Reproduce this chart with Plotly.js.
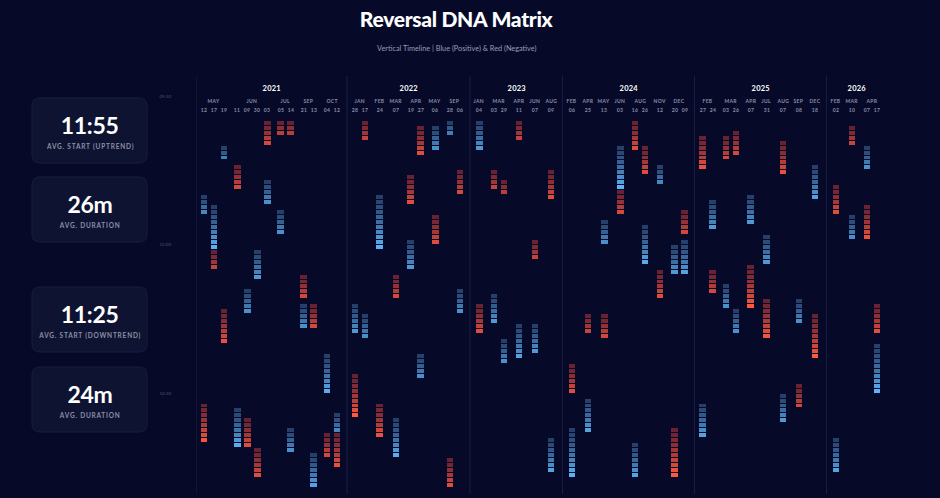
<!DOCTYPE html>
<html><head><meta charset="utf-8">
<script src="https://cdn.plot.ly/plotly-3.0.1.min.js"></script>
<style>html,body{margin:0;padding:0;background:#060a28;}#chart{width:940px;height:498px;}</style>
</head><body><div id="chart"></div>
<script>
// ---------- DATA ----------
const years  = [2021,2021,2021,2021,2021,2021,2021,2021,2021,2021,2021,2021,2021,
                2022,2022,2022,2022,2022,2022,2022,2022,2022,
                2023,2023,2023,2023,2023,2023,
                2024,2024,2024,2024,2024,2024,2024,2024,2024,
                2025,2025,2025,2025,2025,2025,2025,2025,2025,
                2026,2026,2026,2026];
const months = ['MAY','MAY','MAY','JUN','JUN','JUN','JUN','JUL','JUL','SEP','SEP','OCT','OCT',
                'JAN','JAN','FEB','MAR','APR','APR','MAY','SEP','SEP',
                'JAN','MAR','MAR','APR','JUN','AUG',
                'FEB','APR','MAY','JUN','AUG','AUG','NOV','DEC','DEC',
                'FEB','FEB','MAR','MAR','APR','JUL','AUG','SEP','DEC',
                'FEB','MAR','APR','APR'];
const days   = ['12','17','19','11','09','30','03','05','14','21','13','04','12',
                '28','17','24','07','19','27','06','28','06',
                '04','03','29','11','07','09',
                '06','25','13','03','16','26','12','20','09',
                '27','24','03','26','07','31','07','08','18',
                '02','10','07','17'];
// Uptrend (blue) reversals: start time and duration (minutes)
const upStart = ['11:10','11:20','10:20','14:45','12:45','12:05','10:55','11:25','15:05','13:00','15:30','13:50','14:50',
                 '13:00','13:10','11:10','14:55','11:55','13:50','10:00','09:55','12:45',
                 '09:55','12:50','13:35','13:20','13:20','15:15',
                 '15:05','14:35','11:35','10:20','15:20','11:40','10:40','12:00','11:55',
                 '14:40','11:15','12:40','13:05','11:10','11:50','14:30','12:55','10:40',
                 '15:15','11:30','10:20','13:40'];
const upDur   = [15,40,10,35,20,25,20,20,20,20,30,35,15,
                 25,20,50,35,25,20,20,10,20,
                 25,25,20,30,25,30,
                 45,30,20,40,30,35,15,25,30,
                 30,25,20,20,25,25,25,20,30,
                 30,20,20,45];
// Downtrend (red) reversals
const downStart = ['14:40','12:05','13:05','10:40','14:55','15:25','09:55','09:55','09:55','12:30','13:00','15:10','15:10',
                   '14:10','09:55','14:40','12:30','10:50','10:00','11:30','15:35','10:45',
                   '13:00','10:45','10:55','09:55','11:55','10:45',
                   '14:00','13:10','13:10','11:05','09:55','10:20','12:25','15:05','11:25',
                   '10:10','12:25','10:10','10:05','12:20','12:55','10:15','14:20','13:10',
                   '11:00','10:00','11:20','13:00'];
const downDur   = [35,15,30,20,25,25,20,10,10,20,20,20,30,
                   40,15,30,20,25,25,25,25,20,
                   25,15,10,15,15,25,
                   25,15,20,20,25,25,25,45,20,
                   30,20,20,20,40,35,30,20,40,
                   25,15,30,25];
const yTickTimes = ['09:30','12:00','14:30'];
const statValues = ['11:55','26m','11:25','24m'];
const statLabels = ['AVG. START (UPTREND)','AVG. DURATION','AVG. START (DOWNTREND)','AVG. DURATION'];

// ---------- LAYOUT GEOMETRY ----------
const W=940,H=498, ML=196, MR=40, MT=78, MB=4;
const PW=W-ML-MR, PH=H-MT-MB;
const PXPERMIN=0.992, REF_MIN=570, REF_PX=96;
const toMin = s => { const [h,m]=s.split(':').map(Number); return h*60+m; };
const pxToMin = py => REF_MIN + (py-REF_PX)/PXPERMIN;
const py2paper = py => 1-(py-MT)/PH;
const px2paper = px => (px-ML)/PW;

const COLW=10, SINGLEW=12.9, GAP=3.25, PADL=3, PADR=5;
const n=years.length;
const xs=[], seps=[], yearLab=[], monthLab=[];
let cur=0, i=0;
while(i<n){
  const yr=years[i]; seps.push(cur); const y0=cur; cur+=PADL; let first=true;
  while(i<n && years[i]===yr){
    const m=months[i]; let j=i; while(j<n && years[j]===yr && months[j]===m) j++;
    const cnt=j-i; if(!first) cur+=GAP; first=false;
    const gw=Math.max(cnt*COLW,SINGLEW), off=cur+(gw-cnt*COLW)/2;
    for(let k=0;k<cnt;k++) xs.push(off+COLW*(k+0.5));
    monthLab.push({x:cur+gw/2,t:m});
    cur+=gw; i=j;
  }
  cur+=PADR;
  yearLab.push({x:(y0+cur)/2,t:String(yr)});
}

function mix(a,b,t){return 'rgb('+a.map((v,k)=>Math.round(v+(b[k]-v)*t)).join(',')+')';}
const PAL={up:[[38,64,108],[92,178,244]],down:[[104,34,50],[255,88,62]]};
function cells(starts,durs,dir){
  const X=[],B=[],Y=[],C=[];
  starts.forEach((s,c)=>{
    const st=toMin(s), nc=durs[c]/5+1, peak=Math.min(1,0.3+0.08*nc);
    for(let k=0;k<nc;k++){
      const t=nc>1?k/(nc-1):0.5;
      X.push(xs[c]); B.push(st+5*k); Y.push(4.0);
      C.push(mix(PAL[dir][0],PAL[dir][1],Math.pow(t,1.3)*peak));
    }
  });
  return {type:'bar',x:X,y:Y,base:B,width:6.6,hoverinfo:'skip',
          marker:{color:C,line:{width:0}},showlegend:false};
}

const traces=[cells(upStart,upDur,'up'),cells(downStart,downDur,'down')];

const shapes=[], ann=[], spacing={};
const A=(o,ls)=>{ if(ls) spacing[ann.length]=ls; ann.push(Object.assign({showarrow:false,xanchor:'center',yanchor:'middle'},o)); };
seps.forEach(s=>shapes.push({type:'line',xref:'x',yref:'paper',x0:s,x1:s,y0:0,y1:1.005,
  line:{color:'rgba(45,50,95,0.55)',width:1},layer:'below'}));
yearLab.forEach(o=>A({xref:'x',yref:'paper',x:o.x,y:py2paper(88),text:'<b>'+o.t+'</b>',
  font:{family:'Lato',size:7.5,color:'#ffffff'}},'0.2px'));
monthLab.forEach(o=>A({xref:'x',yref:'paper',x:o.x,y:py2paper(101),text:'<b>'+o.t+'</b>',
  font:{family:'Lato',size:5,color:'#8a8ea8'}},'0.35px'));
xs.forEach((x,c)=>A({xref:'x',yref:'paper',x:x,y:py2paper(110),text:'<b>'+days[c]+'</b>',
  font:{family:'Lato',size:5,color:'#8a8ea8'}},'0.2px'));

// stat cards
const cardTops=[98,177,287,367], CH=65, CX0=32, CX1=147, R=8;
cardTops.forEach((t,k)=>{
  const x0=px2paper(CX0),x1=px2paper(CX1),y0=py2paper(t),y1=py2paper(t+CH);
  const rx=R/PW, ry=R/PH;
  const path=`M ${x0+rx},${y0} L ${x1-rx},${y0} Q ${x1},${y0} ${x1},${y0-ry} L ${x1},${y1+ry} Q ${x1},${y1} ${x1-rx},${y1} L ${x0+rx},${y1} Q ${x0},${y1} ${x0},${y1+ry} L ${x0},${y0-ry} Q ${x0},${y0} ${x0+rx},${y0} Z`;
  shapes.push({type:'path',xref:'paper',yref:'paper',path:path,fillcolor:'rgb(14,19,50)',
    line:{color:'rgb(24,29,64)',width:1},layer:'below'});
  A({xref:'paper',yref:'paper',x:px2paper((CX0+CX1)/2),y:py2paper(t+27),text:'<b>'+statValues[k]+'</b>',
    font:{family:'Lato',size:23,color:'#ffffff',weight:900}},'-0.3px');
  A({xref:'paper',yref:'paper',x:px2paper((CX0+CX1)/2),y:py2paper(t+48),text:'<b>'+statLabels[k]+'</b>',
    font:{family:'Lato',size:6.5,color:'#8c8fa6'}},'0.8px');
});
A({xref:'paper',yref:'paper',x:px2paper(456),y:py2paper(49),text:'Vertical Timeline | Blue (Positive) &amp; Red (Negative)',
  font:{family:'Lato',size:7.3,color:'#9a9cb4'}});
A({xref:'paper',yref:'paper',x:px2paper(456),y:py2paper(18),text:'Reversal DNA Matrix',
  font:{family:'Lato',size:21,color:'#ffffff',weight:900}},'-0.3px');

const layout={
  width:W,height:H,margin:{l:ML,r:MR,t:MT,b:MB},
  paper_bgcolor:'#060a28',plot_bgcolor:'#060a28',
  barmode:'overlay',bargap:0,
  xaxis:{range:[0,PW],showgrid:false,zeroline:false,showticklabels:false,ticks:'',fixedrange:true},
  yaxis:{range:[pxToMin(MT+PH),pxToMin(MT)],showgrid:false,zeroline:false,
    tickvals:yTickTimes.map(toMin),ticktext:yTickTimes,ticks:'',ticklabelstandoff:24,
    tickfont:{family:'Lato',size:4.5,color:'#4b5078'},fixedrange:true},
  shapes:shapes,annotations:ann
};
Plotly.newPlot('chart',traces,layout,{displayModeBar:false,staticPlot:true}).then(gd=>{
  gd.querySelectorAll('.annotation').forEach(g=>{
    const idx=+g.getAttribute('data-index');
    if(spacing[idx]!==undefined){ const tx=g.querySelector('text'); if(tx) tx.style.letterSpacing=spacing[idx]; }
  });
});
</script></body></html>
